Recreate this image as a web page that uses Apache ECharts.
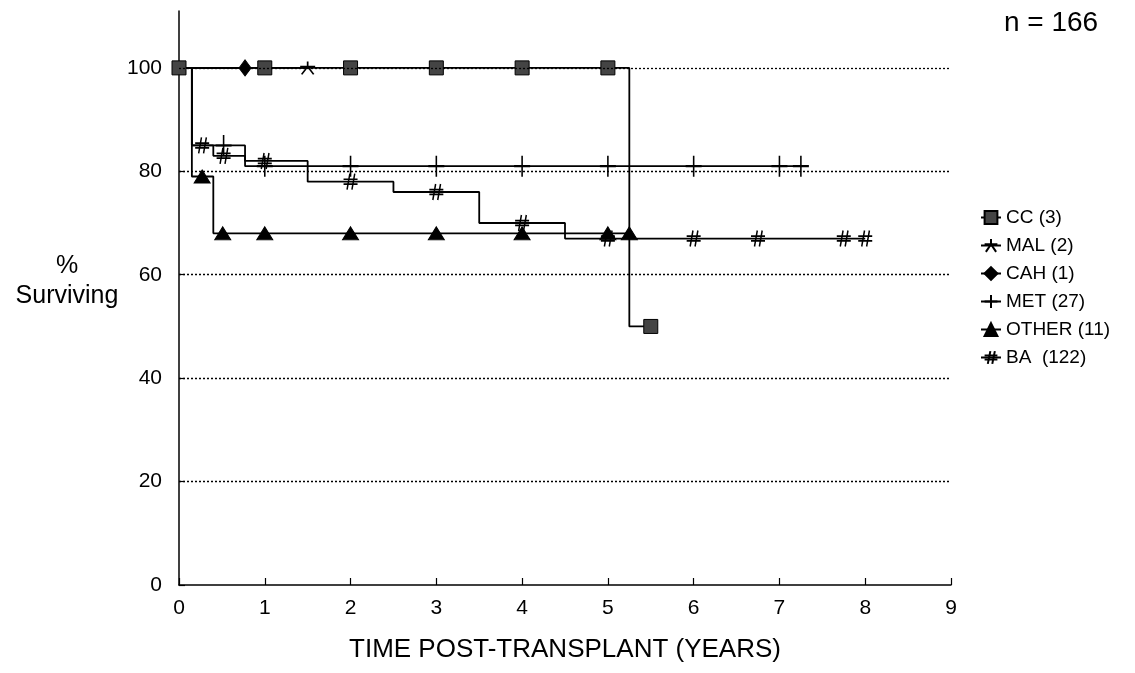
<!DOCTYPE html>
<html>
<head>
<meta charset="utf-8">
<script src="https://cdn.jsdelivr.net/npm/echarts@6/dist/echarts.min.js"></script>
<style>
  html, body { margin: 0; padding: 0; background: #fff; }
  #chart { width: 1135px; height: 673px; }
</style>
</head>
<body>
<div id="chart"></div>
<script>
// survival curves: time of each step (years) and % surviving after it
const ccTimes = [0, 5.25, 5.5];
const ccSurv = [100, 50, 50];
const ccCensorT = [0, 1, 2, 3, 4, 5, 5.5];
const ccCensorS = [100, 100, 100, 100, 100, 100, 50];

const malTimes = [0, 1.5];
const malSurv = [100, 100];
const malCensorT = [1.5];
const malCensorS = [100];

const cahTimes = [0, 0.77];
const cahSurv = [100, 100];
const cahCensorT = [0.77];
const cahCensorS = [100];

const metTimes = [0, 0.15, 0.77, 7.3];
const metSurv = [100, 85, 81, 81];
const metCensorT = [0.52, 1, 2, 3, 4, 5, 6, 7, 7.25];
const metCensorS = [85, 81, 81, 81, 81, 81, 81, 81, 81];

const otherTimes = [0, 0.15, 0.4, 5.25];
const otherSurv = [100, 79, 68, 68];
const otherCensorT = [0.27, 0.51, 1, 2, 3, 4, 5, 5.25];
const otherCensorS = [79, 68, 68, 68, 68, 68, 68, 68];

const baTimes = [0, 0.15, 0.4, 0.77, 1.5, 2.5, 3.5, 4.5, 8];
const baSurv = [100, 85, 83, 82, 78, 76, 70, 67, 67];
const baCensorT = [0.27, 0.52, 1, 2, 3, 4, 5, 6, 6.75, 7.75, 8];
const baCensorS = [85, 83, 82, 78, 76, 70, 67, 67, 67, 67, 67];

const groupNames = ['CC (3)', 'MAL (2)', 'CAH (1)', 'MET (27)', 'OTHER (11)', 'BA  (122)'];
const yTicks = [0, 20, 40, 60, 80, 100];
const gridValues = [20, 40, 60, 80, 100];

const FONT = '"Liberation Sans", Arial, sans-serif';

function zip(a, b) {
  return a.map((v, i) => [v, b[i]]);
}

// marker look per group
const looks = [
  { symbol: 'rect', size: 14, fill: '#444', bw: 1 },
  { symbol: 'path://M0,4 L10,4 M5,4 L5,0 M5,4 L1,10 M5,4 L9,10', size: [15, 13], fill: '#000', bw: 1.6 },
  { symbol: 'diamond', size: [12, 16], fill: '#000', bw: 1 },
  { symbol: 'path://M5,0 L5,10 M0,5 L10,5', size: [16, 21], fill: '#000', bw: 1.8 },
  { symbol: 'triangle', size: [16, 13], fill: '#000', bw: 1 },
  { symbol: 'path://M4.5,0 L2.5,10 M8,0 L6,10 M0,3.5 L10,3.5 M0,6.5 L10,6.5', size: [14, 16], fill: '#000', bw: 1.6 }
];

const curves = [
  [ccTimes, ccSurv, ccCensorT, ccCensorS],
  [malTimes, malSurv, malCensorT, malCensorS],
  [cahTimes, cahSurv, cahCensorT, cahCensorS],
  [metTimes, metSurv, metCensorT, metCensorS],
  [otherTimes, otherSurv, otherCensorT, otherCensorS],
  [baTimes, baSurv, baCensorT, baCensorS]
];

let series = [];
curves.forEach((c, i) => {
  const lk = looks[i];
  let line = {
    name: groupNames[i],
    type: 'line',
    step: 'end',
    data: zip(c[0], c[1]),
    showSymbol: false,
    symbol: lk.symbol,
    symbolSize: lk.size,
    itemStyle: { color: lk.fill, borderColor: '#000', borderWidth: lk.bw },
    lineStyle: { color: '#000', width: 1.8 },
    z: 2
  };
  if (i === 0) {
    // dotted reference lines
    line.markLine = {
      silent: true,
      symbol: 'none',
      label: { show: false },
      lineStyle: { type: [2, 2], color: '#000', width: 1.3 },
      data: gridValues.map(v => ({ yAxis: v }))
    };
  }
  series.push(line);
  series.push({
    name: groupNames[i],
    type: 'scatter',
    data: zip(c[2], c[3]),
    symbol: lk.symbol,
    symbolSize: lk.size,
    clip: false,
    itemStyle: { color: lk.fill, borderColor: '#000', borderWidth: lk.bw, opacity: 1 },
    z: 3
  });
});

const chart = echarts.init(document.getElementById('chart'));
chart.setOption({
  animation: false,
  backgroundColor: '#fff',
  textStyle: { fontFamily: FONT, color: '#000' },
  grid: { left: 179, right: 184, top: 11, bottom: 88 },
  legend: {
    orient: 'vertical',
    left: 975,
    top: 203,
    itemWidth: 20,
    itemHeight: 16,
    itemGap: 9,
    data: groupNames,
    selectedMode: false,
    textStyle: { fontFamily: FONT, fontSize: 19, color: '#000', lineHeight: 16 }
  },
  xAxis: {
    type: 'value',
    min: 0,
    max: 9,
    interval: 1,
    name: 'TIME POST-TRANSPLANT (YEARS)',
    nameLocation: 'middle',
    nameGap: 52,
    nameTextStyle: { fontFamily: FONT, fontSize: 26, color: '#000' },
    axisLine: { lineStyle: { color: '#000', width: 1.5 } },
    axisTick: { inside: true, length: 7, lineStyle: { color: '#000', width: 1.2 } },
    axisLabel: { fontFamily: FONT, fontSize: 21, color: '#000', margin: 13 },
    splitLine: { show: false }
  },
  yAxis: {
    type: 'value',
    min: 0,
    max: 111,
    interval: 20,
    axisLine: { show: true, lineStyle: { color: '#000', width: 1.5 } },
    axisTick: { show: true, inside: true, length: 6, customValues: yTicks, lineStyle: { color: '#000', width: 1.2 } },
    axisLabel: { fontFamily: FONT, fontSize: 21, color: '#000', margin: 17, customValues: yTicks },
    splitLine: { show: false }
  },
  graphic: [
    {
      type: 'text',
      x: 67,
      y: 281,
      style: { text: '%\nSurviving', font: '25px ' + FONT, fill: '#000', align: 'center', verticalAlign: 'middle', lineHeight: 30 }
    },
    {
      type: 'text',
      x: 1051,
      y: 23,
      style: { text: 'n = 166', font: '28px ' + FONT, fill: '#000', align: 'center', verticalAlign: 'middle' }
    }
  ],
  series: series
});
</script>
</body>
</html>
